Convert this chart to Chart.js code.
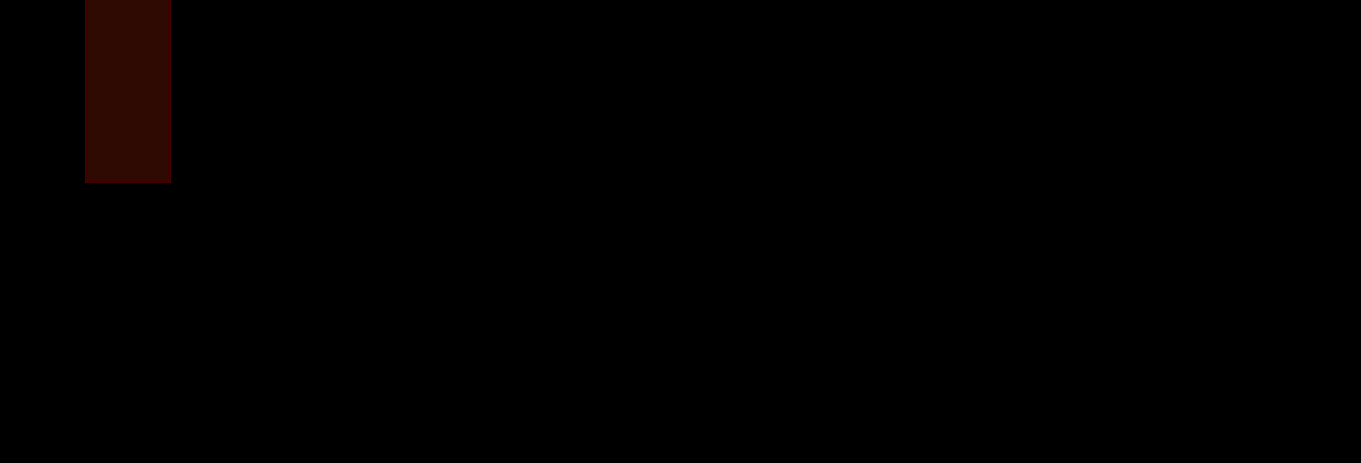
<!DOCTYPE html>
<html>
<head>
<meta charset="utf-8">
<script src="https://cdn.jsdelivr.net/npm/chart.js@4"></script>
<style>
  html, body { margin: 0; padding: 0; background: #000; overflow: hidden; }
  #wrap { width: 1361px; height: 463px; }
</style>
</head>
<body>
<div id="wrap"><canvas id="chart"></canvas></div>
<script>
// данные
const categories = ['A'];
const values = [-39.5];
const yMin = -100;
const yMax = 0;

new Chart(document.getElementById('chart'), {
    type: 'bar',
    data: {
        labels: categories,
        datasets: [{
            data: values,
            backgroundColor: '#2e0a02',
            borderColor: '#420101',
            borderWidth: 3,
            barPercentage: 1,
            categoryPercentage: 1
        }]
    },
    options: {
        animation: false,
        maintainAspectRatio: false,
        layout: { padding: { left: 85, right: 1190, top: 0, bottom: 0 } },
        scales: {
            x: { display: false },
            y: { display: false, min: yMin, max: yMax }
        },
        plugins: {
            legend: { display: false },
            tooltip: { enabled: false }
        }
    }
});
</script>
</body>
</html>
